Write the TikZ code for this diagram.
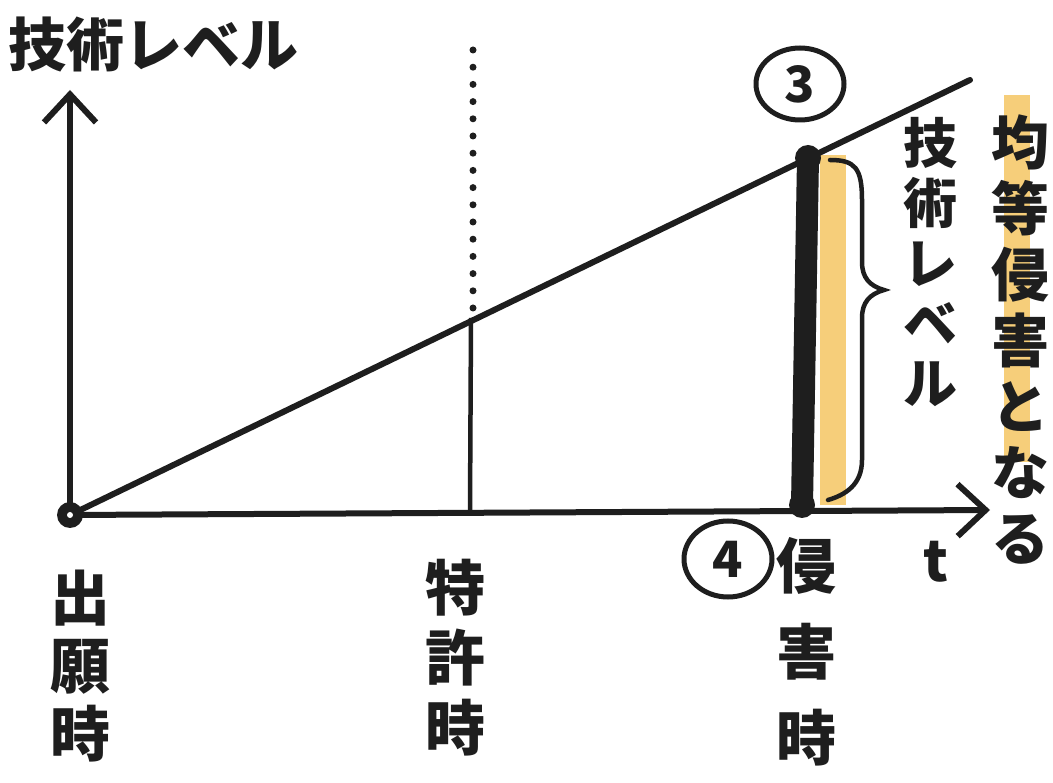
\documentclass[tikz,border=0pt]{standalone}
\usepackage{fontspec}
\newfontfamily\cjk{Noto Sans CJK JP}
\usetikzlibrary{arrows.meta,shapes.geometric}
\definecolor{tape}{RGB}{246,206,122}
\definecolor{ink}{RGB}{30,30,30}
\tikzset{
  axisline/.style={draw=ink,line width=6pt,line cap=round},
  arrowline/.style={axisline,-{Straight Barb[length=28pt,width=52pt,line width=6pt]}},
  dotpt/.style={circle,fill=ink,inner sep=0pt,minimum size=26pt},
  vlabel/.style={font=\cjk\bfseries\fontsize{54}{64}\selectfont,text=ink,align=center,inner sep=0pt},
  circnum/.style={draw=ink,line width=5pt,ellipse,font=\cjk\bfseries\fontsize{50}{50}\selectfont,text=ink,inner sep=0pt},
  highlight/.style={fill=tape,draw=none}
}
\begin{document}
\begin{tikzpicture}[x=1pt,y=-1pt]
\useasboundingbox[fill=white] (0,0) rectangle (1053,783);
% highlights
\fill[highlight] (820,155) rectangle (846,505);
\fill[highlight] (1004,95) rectangle (1030,462);
% coordinates
\coordinate (O) at (70,515);
\coordinate (Ytop) at (70,90);
\coordinate (Xend) at (990,510);
\coordinate (Dend) at (970,80);
\coordinate (Ptop) at (473,50);
\coordinate (Pmid) at (471,318);
\coordinate (Pdot) at (473,308);
\coordinate (Pbot) at (470,510);
\coordinate (Itop) at (808,158);
\coordinate (Ibot) at (802,505);
% axes
\draw[arrowline] (O) -- (Ytop);
\draw[arrowline] (O) -- (Xend);
% rising line
\draw[axisline] (O) -- (Dend);
% patent time
\draw[ink,line width=7pt,line cap=round,dash pattern=on 0pt off 17.2pt] (Ptop) -- (Pdot);
\draw[ink,line width=4.5pt] (Pmid) -- (Pbot);
% infringement bar
\draw[ink,line width=22pt,line cap=round] (Itop) -- (Ibot);
\node[dotpt] (Od) at (O) {};
\node[circle,fill=white,inner sep=0pt,minimum size=6pt] (Oc) at (O) {};
\node[dotpt] (Id1) at (Itop) {};
\node[dotpt] (Id2) at (Ibot) {};
% brace
\draw[ink,line width=4.5pt,line cap=round]
  (830,160) .. controls (855,160) and (862,168) .. (862,200)
  -- (862,262) .. controls (862,278) and (870,286) .. (884,290)
  .. controls (870,294) and (862,302) .. (862,318)
  -- (862,460) .. controls (862,485) and (845,495) .. (828,500);
% circled numbers
\node[circnum,minimum width=88pt,minimum height=72pt] (c3) at (800,84) {3};
\node[circnum,minimum width=88pt,minimum height=76pt] (c4) at (728,559) {4};
% labels
\node[font=\cjk\bfseries\fontsize{58}{58}\selectfont,text=ink,inner sep=0pt,anchor=west] (ylab) at (8,44) {技術レベル};
\node[font=\cjk\bfseries\fontsize{56}{56}\selectfont,text=ink,inner sep=0pt] (tlab) at (936,562) {t};
\node[vlabel,font=\cjk\bfseries\fontsize{54}{60}\selectfont] (lev) at (930,262) {技\\術\\レ\\ベ\\ル};
\node[vlabel,font=\cjk\bfseries\fontsize{58}{66}\selectfont] (eq) at (1020,340) {均\\等\\侵\\害\\と\\な\\る};
\node[vlabel,font=\cjk\bfseries\fontsize{60}{68}\selectfont] (l1) at (80,666) {出\\願\\時};
\node[vlabel,font=\cjk\bfseries\fontsize{60}{70}\selectfont] (l2) at (455,658) {特\\許\\時};
\node[vlabel,font=\cjk\bfseries\fontsize{60}{86}\selectfont] (l3) at (806,652) {侵\\害\\時};
\end{tikzpicture}
\end{document}
